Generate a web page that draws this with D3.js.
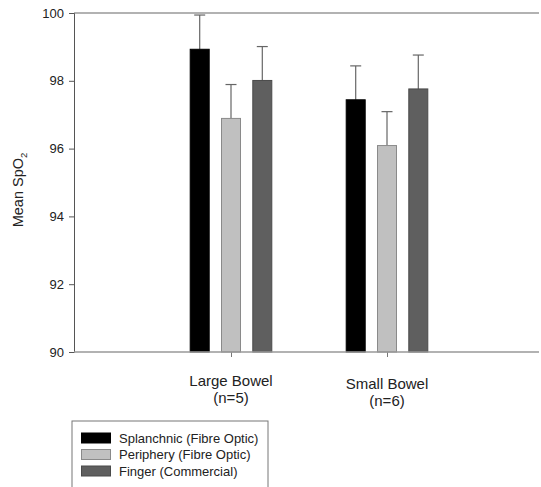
<!DOCTYPE html>
<html>
<head>
<meta charset="utf-8">
<script src="https://cdn.jsdelivr.net/npm/d3@7"></script>
<style>
  body { margin: 0; background: #fff; }
  text { font-family: Arial, "Liberation Sans", sans-serif; fill: #222; }
</style>
</head>
<body>
<div id="chart"></div>
<script>
// data
var groups = ["Large Bowel", "Small Bowel"];
var groupN = ["(n=5)", "(n=6)"];
var series = ["Splanchnic (Fibre Optic)", "Periphery (Fibre Optic)", "Finger (Commercial)"];
var means = [
  [98.93, 96.89, 98.01],   // Large Bowel
  [97.44, 96.09, 97.76]    // Small Bowel
];
var errs = [
  [1.01, 1.0, 1.0],
  [1.0, 1.0, 1.0]
];
var yTicks = [90, 92, 94, 96, 98, 100];

var fills = ["#000000", "#c0c0c0", "#5f5f5f"];
var strokes = ["#000000", "#8a8a8a", "#4a4a4a"];

var width = 541, height = 487;
// note: "top" is reserved on window, so use plot* names
var plotL = 74, plotR = 539, plotT = 13, plotB = 352;

var svg = d3.select("#chart").append("svg")
  .attr("width", width)
  .attr("height", height);

var y = d3.scaleLinear().domain([90, 100]).range([plotB, plotT]);

// group positions
var x = d3.scalePoint()
  .domain(groups)
  .range([231, 387]);

var barStep = 31.3, barW = 19;
var inner = d3.scaleLinear().domain([0, 2]).range([-barStep, barStep]);

// frame line on top
svg.append("line")
  .attr("x1", plotL).attr("x2", plotR)
  .attr("y1", plotT).attr("y2", plotT)
  .attr("stroke", "#999").attr("stroke-width", 1.3);

// y axis
var yAxis = d3.axisLeft(y).tickValues(yTicks).tickSize(5).tickPadding(5);
var ga = svg.append("g")
  .attr("transform", "translate(" + plotL + ",0)")
  .call(yAxis);
ga.select(".domain").attr("stroke", "#555");
ga.selectAll(".tick line").attr("stroke", "#555");
ga.selectAll(".tick text")
  .style("font-size", "13px")
  .style("font-family", "Arial, 'Liberation Sans', sans-serif")
  .attr("fill", "#222");

// bars
groups.forEach(function(g, gi) {
  var cx = x(g);
  series.forEach(function(s, si) {
    var bx = cx + inner(si) - barW / 2;
    var v = means[gi][si];
    var bc = cx + inner(si);
    var e = y(v + errs[gi][si]);
    // error bar (upper only)
    svg.append("line")
      .attr("x1", bc).attr("x2", bc)
      .attr("y1", y(v)).attr("y2", e)
      .attr("stroke", "#666").attr("stroke-width", 1.2);
    svg.append("line")
      .attr("x1", bc - 5.5).attr("x2", bc + 5.5)
      .attr("y1", e).attr("y2", e)
      .attr("stroke", "#666").attr("stroke-width", 1.2);
    svg.append("rect")
      .attr("x", bx)
      .attr("y", y(v))
      .attr("width", barW)
      .attr("height", y(90) - y(v))
      .attr("fill", fills[si])
      .attr("stroke", strokes[si])
      .attr("stroke-width", 1);
  });
});

// x axis
var xAxis = d3.axisBottom(x).tickSize(5).tickFormat("");
var gx = svg.append("g")
  .attr("transform", "translate(0," + plotB + ")")
  .call(xAxis);
gx.select(".domain").remove();
gx.selectAll(".tick line").attr("stroke", "#777");
svg.append("line")
  .attr("x1", plotL).attr("x2", plotR)
  .attr("y1", plotB).attr("y2", plotB)
  .attr("stroke", "#999").attr("stroke-width", 1.3);

// category labels
var labOff = [0, 2.5];
groups.forEach(function(g, gi) {
  svg.append("text")
    .attr("x", x(g)).attr("y", 386 + labOff[gi])
    .attr("text-anchor", "middle")
    .style("font-size", "15px")
    .text(g);
  svg.append("text")
    .attr("x", x(g)).attr("y", 403 + labOff[gi])
    .attr("text-anchor", "middle")
    .style("font-size", "15px")
    .text(groupN[gi]);
});

// y label
var yl = svg.append("text")
  .attr("transform", "translate(23," + 190 + ") rotate(-90)")
  .attr("text-anchor", "middle")
  .style("font-size", "14.5px");
yl.append("tspan").text("Mean SpO");
yl.append("tspan").attr("dy", 4).style("font-size", "9.5px").text("2");

// legend
var leg = svg.append("g");
leg.append("rect")
  .attr("x", 72).attr("y", 421)
  .attr("width", 196).attr("height", 80)
  .attr("fill", "#fff")
  .attr("stroke", "#777").attr("stroke-width", 1);
series.forEach(function(s, i) {
  var ly = 433 + i * 16.5;
  leg.append("rect")
    .attr("x", 81.5).attr("y", ly)
    .attr("width", 29).attr("height", 10)
    .attr("fill", fills[i])
    .attr("stroke", strokes[i]);
  leg.append("text")
    .attr("x", 119).attr("y", ly + 9.5)
    .style("font-size", "13px")
    .text(s);
});
</script>
</body>
</html>
